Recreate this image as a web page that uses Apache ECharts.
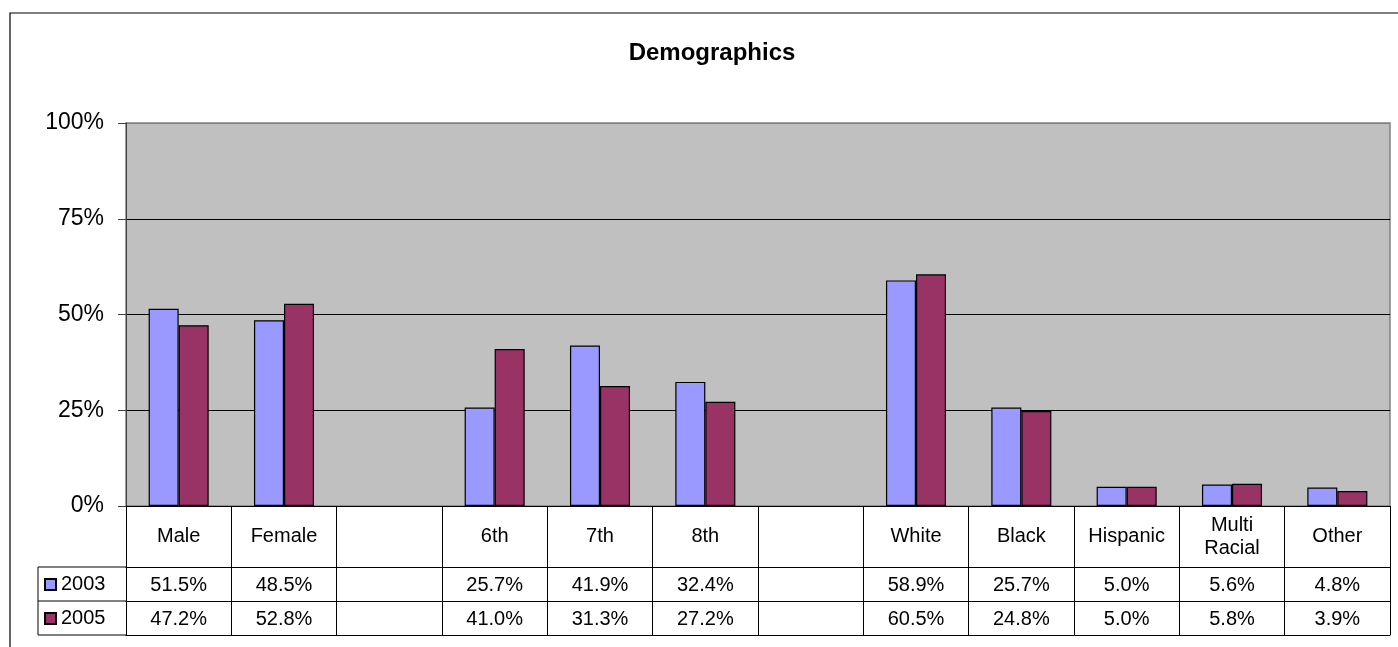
<!DOCTYPE html>
<html>
<head>
<meta charset="utf-8">
<script src="https://cdn.jsdelivr.net/npm/echarts@6/dist/echarts.min.js"></script>
<style>
  html, body { margin: 0; padding: 0; background: #fff; }
  #chart { width: 1398px; height: 647px; }
</style>
</head>
<body>
<div id="chart"></div>
<script>
  // categories (blank ones are the gaps between groups)
  var categories = ['Male', 'Female', '', '6th', '7th', '8th', '', 'White', 'Black', 'Hispanic', 'Multi\nRacial', 'Other'];
  var seriesNames = ['2003', '2005'];
  var values2003 = [51.5, 48.5, null, 25.7, 41.9, 32.4, null, 58.9, 25.7, 5.0, 5.6, 4.8];
  var values2005 = [47.2, 52.8, null, 41.0, 31.3, 27.2, null, 60.5, 24.8, 5.0, 5.8, 3.9];
  var yMin = 0, yMax = 100, yStep = 25;

  var FONT = '"Liberation Sans", Arial, sans-serif';
  var C2003 = '#9999FF', C2005 = '#993366';

  // layout of the plot and the data table under it
  var gridLeft = 126, gridTop = 123, gridRight = 8, gridBottom = 141;
  var headH = 61, rowH = 34, legendX = 38;
  var axisY = 647 - gridBottom;

  function pct(v) { return v == null ? '' : v.toFixed(1) + '%'; }

  function tableAxis(offset, row, tickLen) {
    return {
      type: 'category', gridIndex: 0, position: 'bottom', offset: offset,
      data: categories,
      axisLine: { show: true, lineStyle: { color: '#000', width: 1 } },
      axisTick: { show: tickLen > 0, interval: 0, length: tickLen, lineStyle: { color: '#000', width: 1 } },
      axisLabel: {
        show: !!row, interval: 0, margin: rowH / 2 + 1, verticalAlign: 'middle',
        fontFamily: FONT, fontSize: 20, color: '#000',
        formatter: function (v, i) { return row ? pct(row[i]) : ''; }
      },
      splitLine: { show: false }
    };
  }

  var chart = echarts.init(document.getElementById('chart'), null, { renderer: 'canvas' });

  var legendLines = [];
  [0, 1, 2].forEach(function (k) {
    var y = axisY + headH + k * rowH;
    legendLines.push({ type: 'line', shape: { x1: legendX, y1: y, x2: gridLeft, y2: y }, style: { stroke: '#000', lineWidth: 1 } });
  });
  legendLines.push({ type: 'line', shape: { x1: legendX, y1: axisY + headH, x2: legendX, y2: axisY + headH + 2 * rowH }, style: { stroke: '#000', lineWidth: 1 } });

  chart.setOption({
    animation: false,
    backgroundColor: '#fff',
    title: {
      text: 'Demographics', left: 712, top: 41, textAlign: 'center', padding: 0,
      textStyle: { fontFamily: FONT, fontSize: 24, fontWeight: 'bold', color: '#000' }
    },
    legend: {
      data: seriesNames, orient: 'vertical', left: 44, top: axisY + headH + 7.5,
      itemWidth: 11, itemHeight: 11, itemGap: 14, padding: 0,
      icon: 'rect',
      textStyle: { fontFamily: FONT, fontSize: 20, color: '#000' }
    },
    graphic: [{
      type: 'rect', shape: { x: 10, y: 13, width: 1420, height: 700 },
      style: { fill: 'none', stroke: '#000', lineWidth: 1.2 }, z: 100
    }].concat(legendLines),
    grid: {
      left: gridLeft, top: gridTop, right: gridRight, bottom: gridBottom,
      show: true, backgroundColor: '#C0C0C0', borderColor: '#808080', borderWidth: 1.5
    },
    xAxis: [
      {
        type: 'category', data: categories, position: 'bottom',
        axisLine: { show: true, lineStyle: { color: '#000', width: 1 } },
        axisTick: { show: true, interval: 0, length: headH, lineStyle: { color: '#000', width: 1 } },
        axisLabel: {
          interval: 0, margin: headH / 2, verticalAlign: 'middle', lineHeight: 23,
          fontFamily: FONT, fontSize: 20, color: '#000'
        },
        splitLine: { show: false }
      },
      tableAxis(headH, values2003, rowH),
      tableAxis(headH + rowH, values2005, rowH),
      tableAxis(headH + 2 * rowH, null, 0)
    ],
    yAxis: {
      type: 'value', min: yMin, max: yMax, interval: yStep,
      axisLine: { show: true, lineStyle: { color: '#404040', width: 1 } },
      axisTick: { show: true, length: 8, lineStyle: { color: '#404040', width: 1 } },
      axisLabel: {
        margin: 22, fontFamily: FONT, fontSize: 23, color: '#000',
        formatter: function (v) { return v + '%'; }
      },
      splitLine: { show: true, lineStyle: { color: ['#000', '#000', '#000', '#000', '#808080'], width: 1 } }
    },
    series: [
      {
        name: seriesNames[0], type: 'bar', data: values2003,
        barGap: '0%', barCategoryGap: '43%',
        itemStyle: { color: C2003, borderColor: '#000', borderWidth: 1.2 }
      },
      {
        name: seriesNames[1], type: 'bar', data: values2005,
        barGap: '0%', barCategoryGap: '43%',
        itemStyle: { color: C2005, borderColor: '#000', borderWidth: 1.2 }
      }
    ]
  });
</script>
</body>
</html>
